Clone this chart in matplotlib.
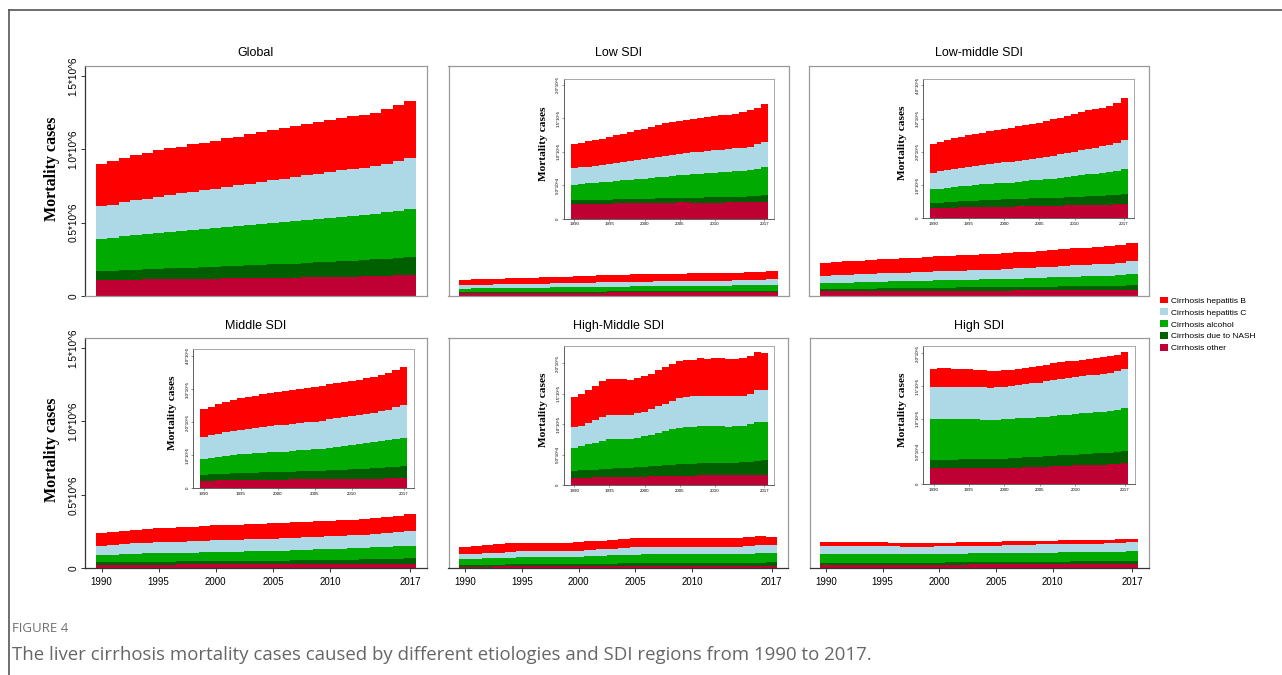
import matplotlib
matplotlib.use("Agg")
import matplotlib.pyplot as plt
import numpy as np
from matplotlib.patches import Patch
from matplotlib.lines import Line2D

plt.rcParams["font.family"] = ["Liberation Sans", "DejaVu Sans"]

years = np.arange(1990, 2018)
year_ticks = [1990, 1995, 2000, 2005, 2010, 2017]

# cause names / colours, listed top of the stack first
causes = ["Cirrhosis hepatitis B", "Cirrhosis hepatitis C", "Cirrhosis alcohol",
          "Cirrhosis due to NASH", "Cirrhosis other"]
cause_colors = ["#FF0000", "#ADD8E6", "#00AA00", "#006000", "#BE0032"]

# deaths in thousands, 1990-2017
global_hbv = [289, 295, 302, 307, 313, 316, 318, 318, 323, 325, 327, 330, 331, 336,
              339, 341, 343, 346, 347, 350, 353, 356, 359, 359, 362, 373, 382, 386]
global_hcv = [225, 225, 232, 236, 241, 247, 253, 257, 259, 263, 268, 273, 278, 282,
              286, 291, 295, 300, 305, 309, 313, 316, 319, 323, 325, 330, 336, 346]
global_alc = [216, 225, 231, 237, 241, 245, 248, 252, 256, 260, 264, 267, 271, 275,
              279, 283, 287, 290, 293, 296, 299, 302, 304, 307, 312, 316, 323, 329]
global_nash = [61, 63, 65, 67, 69, 71, 73, 75, 77, 79, 81, 83, 85, 87,
               89, 91, 93, 95, 98, 101, 103, 106, 109, 111, 113, 116, 119, 121]
global_other = [109, 110, 111, 112, 113, 114, 115, 116, 117, 118, 119, 120, 121, 122,
                123, 124, 125, 126, 127, 128, 130, 131, 132, 134, 136, 138, 140, 143]

low_hbv = [36.4, 37.1, 37.8, 38.5, 39.2, 40.4, 41.5, 42.6, 43.7, 44.8, 45.9, 46.8, 47.7, 49.0,
           49.9, 49.8, 50.1, 50.4, 50.7, 51.0, 50.9, 51.1, 51.3, 52.0, 53.4, 54.9, 55.1, 55.9]
low_hcv = [24.4, 24.8, 25.2, 25.6, 26.0, 26.4, 26.9, 27.4, 27.9, 28.4, 28.9, 29.5, 30.1, 30.7,
           31.3, 32.0, 32.4, 32.8, 33.2, 33.6, 33.9, 33.9, 33.9, 33.9, 34.2, 34.9, 36.0, 37.9]
low_alc = [23.5, 24.2, 24.9, 25.5, 26.1, 26.8, 27.4, 28.0, 28.7, 29.3, 30.0, 30.7, 31.4, 32.1,
           32.8, 33.4, 34.1, 34.8, 35.5, 36.2, 36.9, 37.4, 37.9, 38.4, 38.8, 39.1, 40.5, 41.9]
low_nash = [5.5, 5.6, 5.6, 5.8, 5.9, 6.0, 6.1, 6.3, 6.3, 6.5, 6.5, 6.6, 6.7, 6.8,
            6.9, 7.0, 7.2, 7.4, 7.6, 7.8, 8.0, 8.1, 8.2, 8.3, 8.5, 8.8, 9.4, 10.0]
low_other = [21.9, 22.0, 22.2, 22.3, 22.5, 22.6, 22.8, 22.9, 23.1, 23.2, 23.4, 23.6, 23.8, 24.0,
             24.2, 24.4, 24.3, 24.2, 24.1, 24.0, 23.9, 24.1, 24.3, 24.5, 24.7, 24.9, 25.1, 25.4]

lowmid_hbv = [86, 88, 91, 92, 94, 96, 97, 98, 99, 101, 102, 103, 104, 105,
              105, 107, 108, 110, 111, 113, 115, 116, 117, 117, 117, 118, 120, 128]
lowmid_hcv = [50, 52, 53, 54, 55, 56, 57, 58, 59, 60, 61, 62, 63, 64,
              65, 66, 67, 69, 70, 72, 73, 75, 76, 78, 79, 81, 84, 87]
lowmid_alc = [42, 43, 43, 45, 45, 46, 47, 48, 49, 49, 50, 50, 52, 52,
              54, 54, 56, 57, 60, 61, 63, 64, 66, 67, 69, 70, 72, 75]
lowmid_nash = [14, 15, 16, 17, 18, 19, 20, 20, 21, 21, 22, 22, 22, 23,
               23, 23, 24, 24, 24, 24, 25, 26, 26, 27, 27, 28, 29, 30]
lowmid_other = [31, 31, 32, 32, 33, 33, 33, 34, 34, 35, 35, 35, 36, 36,
                37, 37, 37, 38, 38, 39, 39, 39, 40, 40, 41, 41, 42, 43]

mid_hbv = [85, 87, 89, 91, 93, 95, 96, 98, 99, 101, 102, 103, 103, 104,
           104, 105, 105, 106, 106, 106, 107, 107, 107, 107, 108, 111, 113, 114]
mid_hcv = [66, 68, 70, 71, 72, 74, 76, 76, 78, 78, 80, 80, 81, 81,
           83, 83, 84, 85, 85, 86, 86, 88, 89, 90, 91, 93, 96, 100]
mid_alc = [48, 50, 52, 54, 56, 57, 57, 59, 59, 61, 61, 62, 64, 65,
           65, 66, 67, 69, 71, 72, 74, 75, 77, 79, 81, 82, 84, 85]
mid_nash = [18, 19, 19, 20, 20, 21, 21, 21, 22, 22, 23, 23, 23, 24,
            25, 25, 26, 26, 27, 28, 29, 30, 30, 31, 32, 33, 35, 37]
mid_other = [23, 23, 24, 24, 25, 25, 25, 26, 26, 26, 26, 26, 27, 27,
             27, 27, 27, 28, 28, 28, 28, 28, 29, 29, 29, 30, 30, 31]

highmid_hbv = [49.3, 51.5, 53.7, 55.9, 57.6, 58.6, 58.6, 58.1, 58.1, 57.5, 57.6, 58.1, 59.1, 59.7,
               61.4, 61.3, 60.8, 60.3, 60.9, 60.3, 60.9, 61.4, 60.8, 60.8, 60.9, 61.4, 61.3, 60.2]
highmid_hcv = [33.4, 33.4, 35.7, 37.2, 39.4, 40.0, 40.0, 40.0, 39.4, 40.0, 40.5, 42.2, 43.3, 44.4,
               45.5, 48.8, 48.8, 49.3, 49.8, 49.8, 49.8, 49.8, 49.3, 49.3, 49.3, 49.9, 53.2, 52.6]
highmid_alc = [38.4, 40.3, 42.3, 44.3, 46.9, 48.3, 48.3, 47.7, 46.7, 48.8, 50.4, 51.7, 54.1, 56.6,
               58.4, 59.7, 60.4, 61.0, 61.7, 61.2, 60.8, 60.6, 59.5, 60.3, 60.0, 61.3, 63.6, 63.1]
highmid_nash = [11.5, 12.0, 12.3, 12.8, 13.1, 13.6, 13.9, 14.4, 14.8, 15.3, 15.8, 16.3, 16.9, 17.4,
                18.0, 18.7, 19.0, 19.4, 19.7, 20.0, 20.3, 20.4, 20.4, 20.6, 21.2, 21.9, 22.6, 23.5]
highmid_other = [11.5, 11.8, 12.2, 12.5, 12.9, 13.2, 13.4, 13.5, 13.6, 13.7, 13.8, 14.2, 14.5, 14.8,
                 15.1, 15.3, 15.4, 15.5, 15.6, 15.8, 15.9, 16.0, 16.0, 16.1, 16.3, 16.5, 16.8, 17.0]

high_hbv = [27.5, 28.0, 28.0, 27.5, 27.5, 27.0, 26.0, 25.9, 25.9, 25.4, 24.9, 25.0, 25.3, 25.1,
            24.8, 25.5, 25.4, 25.3, 25.6, 24.9, 24.4, 24.9, 24.8, 24.9, 25.4, 25.9, 25.4, 26.0]
high_hcv = [49.9, 49.8, 49.7, 49.6, 49.5, 49.4, 49.4, 49.4, 49.4, 49.4, 49.9, 50.3, 50.9, 51.5,
            52.2, 52.9, 54.0, 55.1, 55.8, 56.5, 57.0, 57.1, 57.3, 57.4, 57.5, 57.5, 58.5, 60.0]
high_alc = [62.0, 61.9, 61.8, 61.7, 61.6, 61.5, 60.8, 60.1, 59.4, 59.7, 60.0, 60.0, 60.0, 60.0,
            60.0, 60.1, 60.5, 60.9, 61.3, 61.7, 62.1, 62.4, 62.7, 63.0, 63.3, 63.7, 64.7, 65.6]
high_nash = [11.8, 12.1, 12.4, 12.7, 13.0, 13.3, 13.5, 13.7, 13.9, 14.1, 14.3, 14.6, 14.9, 15.1,
             15.4, 15.7, 15.8, 15.9, 16.1, 16.2, 16.3, 16.6, 16.9, 17.2, 17.5, 17.8, 18.1, 18.4]
high_other = [25.4, 25.3, 25.2, 25.1, 25.0, 24.9, 24.9, 24.9, 24.9, 24.9, 24.9, 25.2, 25.5, 25.9,
              26.2, 26.5, 27.0, 27.5, 28.0, 28.5, 29.0, 29.3, 29.6, 29.9, 30.2, 30.5, 31.2, 32.0]

main_ticks = [0, 0.5e6, 1.0e6, 1.5e6]
main_ticklabels = ["0", "0.5*10^6", "1.0*10^6", "1.5*10^6"]
small_ticks = [0, 0.5e5, 1.0e5, 1.5e5, 2.0e5]
small_ticklabels = ["0", "5.0*10^4", "1.0*10^5", "1.5*10^5", "2.0*10^5"]
big_ticks = [0, 1e5, 2e5, 3e5, 4e5]
big_ticklabels = ["0", "1.0*10^5", "2.0*10^5", "3.0*10^5", "4.0*10^5"]

# title, stacked series, main axes box (px), inset box (px), inset y-limit, inset ticks
panels = [
    ("Global", [global_hbv, global_hcv, global_alc, global_nash, global_other],
     (85, 65.5, 426.5, 296), None, None, None),
    ("Low SDI", [low_hbv, low_hcv, low_alc, low_nash, low_other],
     (448.5, 65.5, 788.5, 296), (564, 79.3, 774.3, 218.7), 2.085e5,
     (small_ticks, small_ticklabels)),
    ("Low-middle SDI", [lowmid_hbv, lowmid_hcv, lowmid_alc, lowmid_nash, lowmid_other],
     (809, 65.5, 1148.5, 296), (923.3, 79.3, 1134.3, 218.3), 4.18e5,
     (big_ticks, big_ticklabels)),
    ("Middle SDI", [mid_hbv, mid_hcv, mid_alc, mid_nash, mid_other],
     (85, 337.7, 426.5, 568.3), (193.3, 349.3, 414.3, 488.3), 4.2e5,
     (big_ticks, big_ticklabels)),
    ("High-Middle SDI", [highmid_hbv, highmid_hcv, highmid_alc, highmid_nash, highmid_other],
     (448.5, 337.7, 788, 568.3), (564, 346, 774.3, 485), 2.28e5,
     (small_ticks, small_ticklabels)),
    ("High SDI", [high_hbv, high_hcv, high_alc, high_nash, high_other],
     (809.5, 337.7, 1148.5, 568.3), (923.3, 346, 1135, 484.3), 2.11e5,
     (small_ticks, small_ticklabels)),
]

W, H = 1282, 675
fig = plt.figure(figsize=(W / 100, H / 100), dpi=100)


def px_box(l, t, r, b):
    return [l / W, 1 - b / H, (r - l) / W, (b - t) / H]


def draw_stack(ax, series):
    edges = np.append(years - 0.5, years[-1] + 0.5)
    base = np.zeros(len(years))
    for vals, col in zip(series[::-1], cause_colors[::-1]):
        top = base + np.asarray(vals) * 1000
        ax.stairs(top, edges, baseline=base, fill=True, color=col, lw=0)
        base = top
    ax.set_xlim(1988.55, 2018.45)


def style_box(ax, lw):
    for s in ax.spines.values():
        s.set_color("#9a9a9a")
        s.set_linewidth(lw)


for i, (title, series, box, inset, inset_top, inset_ticks) in enumerate(panels):
    ax = fig.add_axes(px_box(*box))
    draw_stack(ax, series)
    ax.set_ylim(0, 1.57e6)
    style_box(ax, 0.9)
    ax.set_title(title, fontsize=9, pad=7 if i < 3 else 6.5)

    if i >= 3:
        ax.set_xticks(year_ticks)
        ax.set_xticklabels([str(y) for y in year_ticks], fontsize=7)
        ax.tick_params(axis="x", length=3, width=0.7, pad=3.5, color="#333333")
        ax.spines["bottom"].set_color("#333333")
    else:
        ax.set_xticks([])

    if i % 3 == 0:
        ax.set_yticks(main_ticks)
        ax.set_yticklabels(main_ticklabels, fontsize=7.3, rotation=90, va="center")
        ax.tick_params(axis="y", length=3, width=0.7, pad=1.5, color="#333333")
        ax.spines["left"].set_color("#333333")
        ax.set_ylabel("Mortality cases", fontsize=11.5, fontweight="bold",
                      family=["Liberation Serif", "DejaVu Serif"])
        ax.yaxis.set_label_coords(-0.073, 0.55 if i == 0 else 0.513)
    else:
        ax.set_yticks([])

    if inset is None:
        continue

    ins = fig.add_axes(px_box(*inset))
    draw_stack(ins, series)
    ins.set_ylim(0, inset_top)
    style_box(ins, 0.6)
    ins.spines["left"].set_color("#444444")
    ins.spines["bottom"].set_color("#444444")
    ins.set_xticks(year_ticks)
    ins.set_xticklabels([str(y) for y in year_ticks], fontsize=3.2)
    ins.set_yticks(inset_ticks[0])
    ins.set_yticklabels(inset_ticks[1], fontsize=3.2, rotation=90, va="center")
    ins.tick_params(axis="both", length=1.5, width=0.4, pad=1.2, color="#444444")
    ins.set_ylabel("Mortality cases", fontsize=8.2, fontweight="bold",
                   family=["Liberation Serif", "DejaVu Serif"])
    ins.yaxis.set_label_coords(-0.075, 0.54)

handles = [Patch(facecolor=c, edgecolor="none") for c in cause_colors]
fig.legend(handles, causes, loc="upper left", bbox_to_anchor=(1160 / W, 1 - 296.5 / H),
           frameon=False, fontsize=6, handlelength=0.9, handleheight=0.9,
           handletextpad=0.4, labelspacing=0.42, borderaxespad=0, borderpad=0)

# page frame
fig.add_artist(Line2D([9 / W, 9 / W], [0, 1 - 10 / H], color="#555555", lw=1.2))
fig.add_artist(Line2D([9 / W, 1], [1 - 10 / H, 1 - 10 / H], color="#555555", lw=1.2))

fig.text(12 / W, 1 - 628 / H, "FIGURE 4", fontsize=9.5, color="#707070",
         family=["Open Sans", "DejaVu Sans"], va="center")
fig.text(12 / W, 1 - 655 / H,
         "The liver cirrhosis mortality cases caused by different etiologies and SDI "
         "regions from 1990 to 2017.",
         fontsize=13.4, color="#666666", family=["Open Sans", "DejaVu Sans"], va="center")

fig.savefig("out.png", dpi=100)
